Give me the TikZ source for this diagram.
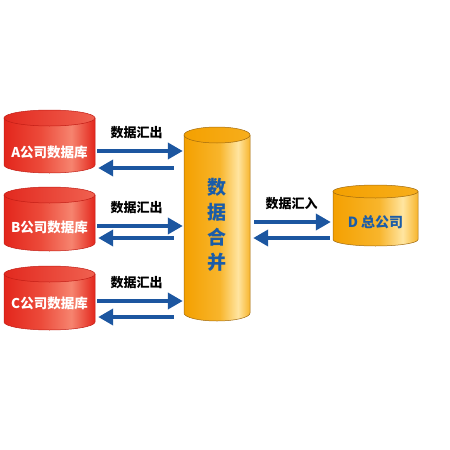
\documentclass[tikz,border=0pt]{standalone}
\usepackage{fontspec}
\newfontfamily\cjk{Noto Sans CJK SC}
\usetikzlibrary{arrows.meta}

\definecolor{rdark}{HTML}{E3261C}
\definecolor{rmid}{HTML}{EC4A3A}
\definecolor{rlight}{HTML}{F6846F}
\definecolor{redtopL}{HTML}{E2291F}
\definecolor{redtopR}{HTML}{F06150}
\definecolor{rededge}{HTML}{C21E16}
\definecolor{odark}{HTML}{F4A000}
\definecolor{omid}{HTML}{F8B52C}
\definecolor{olight}{HTML}{FFE5A0}
\definecolor{orangetopL}{HTML}{F4A000}
\definecolor{orangetopR}{HTML}{F7AE1C}
\definecolor{orangeedge}{HTML}{A06A10}
\definecolor{flowblue}{HTML}{1C56A0}
\definecolor{textblue}{HTML}{1A5CA8}

\pgfdeclarehorizontalshading{redbody}{100bp}{color(0bp)=(rdark); color(25bp)=(rdark); color(45bp)=(rmid); color(62bp)=(rlight); color(75bp)=(rdark); color(100bp)=(rdark)}
\pgfdeclarehorizontalshading{redtop}{100bp}{color(0bp)=(redtopL); color(25bp)=(redtopL); color(75bp)=(redtopR); color(100bp)=(redtopR)}
\pgfdeclarehorizontalshading{orangebody}{100bp}{color(0bp)=(odark); color(25bp)=(odark); color(52bp)=(omid); color(66bp)=(olight); color(75bp)=(omid); color(100bp)=(omid)}
\pgfdeclarehorizontalshading{orangetop}{100bp}{color(0bp)=(orangetopL); color(25bp)=(orangetopL); color(75bp)=(orangetopR); color(100bp)=(orangetopR)}

% drum: left x, top y, width, height, ry, kind
\newcommand{\drum}[6]{%
  \shade[shading=#6body, draw=#6edge, line width=.5pt]
    (#1,#2+#5) -- (#1,#2+#4-#5)
    arc[start angle=180, end angle=0, x radius=#3/2, y radius=#5]
    -- (#1+#3,#2+#5) -- cycle;
  \shade[shading=#6top, draw=#6edge, line width=.5pt]
    (#1+#3/2,#2+#5) ellipse[x radius=#3/2, y radius=#5];
}

\tikzset{
  flow/.style={draw=flowblue, line width=4pt, -{Triangle[length=15pt,width=16pt]}},
  flowlabel/.style={font=\cjk\bfseries\fontsize{13}{13}\selectfont, inner sep=0pt},
  dbtext/.style={text=white, font=\cjk\bfseries\fontsize{13.5}{13.5}\selectfont, inner sep=0pt},
  hubtext/.style={text=textblue, font=\cjk\bfseries\fontsize{19}{25}\selectfont, align=center, inner sep=0pt},
  dtext/.style={text=textblue, font=\cjk\bfseries\fontsize{14}{14}\selectfont, inner sep=0pt}
}

\begin{document}
\begin{tikzpicture}[x=1pt, y=-1pt]
    \useasboundingbox (0,0) rectangle (450,450);

    % databases
    \drum{4}{110}{91}{63}{8}{red}
    \drum{4}{187}{91}{64}{8}{red}
    \drum{4}{266}{91}{64}{8}{red}
    \drum{184}{127}{66}{194}{8}{orange}
    \drum{333}{185}{85}{61}{6.5}{orange}

    \node[dbtext, minimum width=91pt] (dbA) at (49.5,152) {A公司数据库};
    \node[dbtext, minimum width=91pt] (dbB) at (49.5,227) {B公司数据库};
    \node[dbtext, minimum width=91pt] (dbC) at (49.5,303) {C公司数据库};
    \node[hubtext, minimum width=66pt] (hub) at (217,225) {数\\据\\合\\并};
    \node[dtext, minimum width=85pt] (dbD) at (375.5,222) {D 总公司};

    % flows to the hub
    \foreach \s/\o/\b in {A/1/-16, B/1/-11, C/2/-14}{
        \coordinate (out\s) at ([yshift=\o pt]db\s.east);
        \coordinate (back\s) at ([yshift=\b pt]db\s.east);
        \draw[flow, shorten <=2pt, shorten >=1pt] (out\s) -- (out\s -| hub.west)
            node[flowlabel, midway, above=10pt, xshift=-3pt] {数据汇出};
        \draw[flow, shorten <=10pt, shorten >=3pt] (back\s -| hub.west) -- (back\s);
    }

    % flows to D
    \coordinate (backD) at ([yshift=-16pt]dbD.west);
    \draw[flow, shorten <=4pt, shorten >=2pt] (hub.east |- dbD.west) -- (dbD.west)
        node[flowlabel, midway, above=10pt] {数据汇入};
    \draw[flow, shorten <=3pt, shorten >=3pt] (backD) -- (backD -| hub.east);

\end{tikzpicture}
\end{document}
